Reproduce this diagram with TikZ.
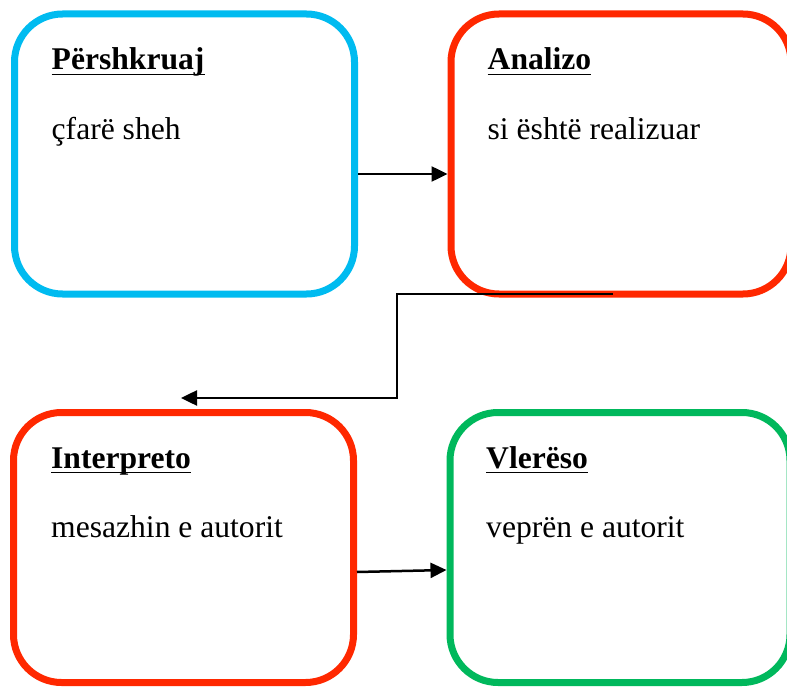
\documentclass[tikz,border=0pt]{standalone}
\usepackage{fontspec}
\setmainfont{Liberation Serif}
\usetikzlibrary{positioning,calc,arrows.meta}
\definecolor{stepblue}{RGB}{0,187,240}
\definecolor{stepred}{RGB}{255,40,0}
\definecolor{stepgreen}{RGB}{0,184,92}

\begin{document}
\begin{tikzpicture}[x=1pt,y=-1pt,node distance=89.5pt and 89.5pt,
    box/.style={rectangle,rounded corners=48pt,line width=7pt,draw=#1,minimum width=340pt,minimum height=280pt},
    low box/.style={box=#1,minimum height=270pt},
    title/.style={anchor=base west,inner sep=0pt,font=\fontsize{31.6}{36}\selectfont\bfseries},
    body/.style={anchor=base west,inner sep=0pt,font=\fontsize{31.6}{36}\selectfont},
    rule/.style={line width=1.4pt},
    link/.style={line width=2.5pt,-{Triangle[length=16pt,width=15pt]}}]
    \clip (0,0) rectangle (787,687);

    \node[box=stepblue] (describe) at (184.5,154) {};
    \node[box=stepred] (analyze) [right=of describe] {};
    \node[low box=stepred] (interpret) at (183.5,547.5) {};
    \node[low box=stepgreen] (assess) [right=of interpret] {};

    \node[title] (describe-title) at ($(describe.north west)+(40.5,59.5)$) {Përshkruaj};
    \node[title] (analyze-title) at ($(analyze.north west)+(40,59.5)$) {Analizo};
    \node[title] (interpret-title) at ($(interpret.north west)+(41,59)$) {Interpreto};
    \node[title] (assess-title) at ($(assess.north west)+(39.5,59)$) {Vlerëso};

    \node[body] (describe-text) at ($(describe-title.base west)+(0,70)$) {çfarë sheh};
    \node[body] (analyze-text) at ($(analyze-title.base west)+(0,70)$) {si është realizuar};
    \node[body] (interpret-text) at ($(interpret-title.base west)+(0,69)$) {mesazhin e autorit};
    \node[body] (assess-text) at ($(assess-title.base west)+(0,69)$) {veprën e autorit};

    \foreach \n in {describe,analyze,interpret,assess}
        \draw[rule] ([yshift=-4.5pt]\n-title.base west) -- ([yshift=-4.5pt]\n-title.base east);

    \coordinate (bend) at (397,398);
    \coordinate (drop) at (181,398);

    \draw[link] ([yshift=-20pt]describe.east) -- ([yshift=-20pt]analyze.west);
    \draw[link] ([xshift=-8pt,yshift=3.5pt]analyze.south) -| (bend) -- (drop);
    \draw[link] ([yshift=-24.5pt]interpret.east) -- ([yshift=-22.5pt]assess.west);
\end{tikzpicture}
\end{document}
